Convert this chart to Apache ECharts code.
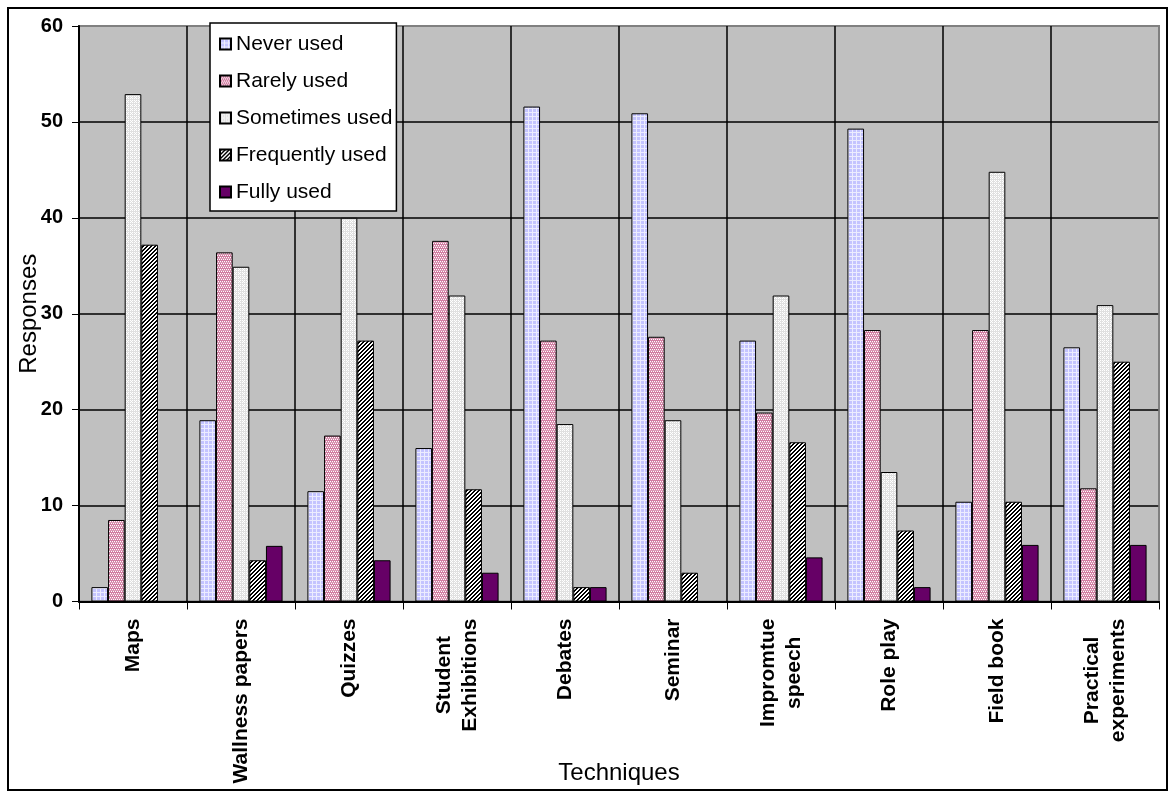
<!DOCTYPE html>
<html>
<head>
<meta charset="utf-8">
<script src="https://cdn.jsdelivr.net/npm/echarts@6/dist/echarts.min.js"></script>
<style>
  html, body { margin: 0; padding: 0; background: #fff; }
  #chart { width: 1173px; height: 792px; }
</style>
</head>
<body>
<div id="chart"></div>
<script>
// Techniques on the category axis
const categories = ['Maps', 'Wallness papers', 'Quizzes', 'Student\nExhibitions', 'Debates',
  'Seminar', 'Impromtue\nspeech', 'Role play', 'Field book', 'Practical\nexperiments'];

// Frequency of use levels (legend entries)
const seriesNames = ['Never used', 'Rarely used', 'Sometimes used', 'Frequently used', 'Fully used'];

// Responses per technique for each level
const neverUsed      = [1.5, 18.9, 11.5, 16.0, 51.6, 50.9, 27.2, 49.3, 10.4, 26.5];
const rarelyUsed     = [8.5, 36.4, 17.3, 37.6, 27.2, 27.6, 19.7, 28.3, 28.3, 11.8];
const sometimesUsed  = [52.9, 34.9, 40.0, 31.9, 18.5, 18.9, 31.9, 13.5, 44.8, 30.9];
const frequentlyUsed = [37.2, 4.3, 27.2, 11.7, 1.5, 3.0, 16.6, 7.4, 10.4, 25.0];
const fullyUsed      = [0, 5.8, 4.3, 3.0, 1.5, 0, 4.6, 1.5, 5.9, 5.9];

// Value axis range
const yMin = 0, yMax = 60, yStep = 10;

const FONT = '"Liberation Sans", Arial, sans-serif';

// Small repeating tiles used as bar fills
function tile(size, base, paint) {
  const c = document.createElement('canvas');
  c.width = size; c.height = size;
  const g = c.getContext('2d');
  g.fillStyle = base;
  g.fillRect(0, 0, size, size);
  for (let y = 0; y < size; y++) {
    for (let x = 0; x < size; x++) {
      const col = paint(x, y);
      if (col) { g.fillStyle = col; g.fillRect(x, y, 1, 1); }
    }
  }
  return { image: c, repeat: 'repeat' };
}

const fills = [
  // lavender grid
  tile(4, '#c4c4ff', (x, y) => (x === 0 || y === 0) ? '#ececff' : null),
  // pink with white dots
  tile(4, '#d27ea2', (x, y) => ((y === 1 && x % 2 === 0) || (y === 3 && x % 2 === 1)) ? '#ffffff' : (y === 2 ? '#dc9ab6' : null)),
  // light grey with white dots
  tile(4, '#e0e0e0', (x, y) => ((y % 2 === 0 && x % 2 === 0) || (y === 1 && x === 3)) ? '#ffffff' : null),
  // black / white diagonal hatch
  tile(4, '#ffffff', (x, y) => ((x + y) % 4 < 2) ? '#000000' : null),
  // solid purple
  '#660066'
];

const seriesData = [neverUsed, rarelyUsed, sometimesUsed, frequentlyUsed, fullyUsed];

// Multi-line category labels: lines centred on each other
function labelFormatter(v) {
  if (v.indexOf('\n') < 0) return v;
  return v.split('\n').map(s => '{c|' + s + '}').join('\n');
}

const ySplitColors = [];
for (let v = yMin; v <= yMax; v += yStep) ySplitColors.push(v === yMax ? '#808080' : '#000000');
const xSplitColors = categories.map(() => '#000000').concat(['#808080']);

const chart = echarts.init(document.getElementById('chart'), null, { renderer: 'canvas' });

chart.setOption({
  animation: false,
  backgroundColor: '#ffffff',
  grid: {
    left: 79, right: 14, top: 26, bottom: 190.5,
    outerBoundsMode: 'none',
    containLabel: false,
    show: true,
    backgroundColor: '#c0c0c0',
    borderColor: '#808080',
    borderWidth: 2
  },
  legend: {
    orient: 'vertical',
    left: 210, top: 23,
    padding: [10, 4, 8, 9],
    itemGap: 15,
    itemWidth: 11, itemHeight: 11,
    icon: 'rect',
    backgroundColor: '#ffffff',
    borderColor: '#000000',
    borderWidth: 1.5,
    textStyle: { fontFamily: FONT, fontSize: 21, lineHeight: 22, color: '#000000' },
    data: seriesNames
  },
  xAxis: {
    type: 'category',
    data: categories,
    name: 'Techniques',
    nameLocation: 'middle',
    nameGap: 160,
    nameMoveOverlap: false,
    nameTextStyle: { fontFamily: FONT, fontSize: 24, color: '#000000' },
    axisLine: { show: true, lineStyle: { color: '#000000', width: 2 } },
    axisTick: { show: true, length: 8, lineStyle: { color: '#000000', width: 1 } },
    axisLabel: {
      interval: 0,
      rotate: 90,
      margin: 17,
      fontFamily: FONT, fontSize: 21, fontWeight: 'bold', color: '#000000',
      lineHeight: 26,
      formatter: labelFormatter,
      rich: {
        c: { align: 'center', fontFamily: FONT, fontSize: 21, fontWeight: 'bold', color: '#000000', lineHeight: 26 }
      }
    },
    splitLine: { show: true, interval: 0, lineStyle: { color: xSplitColors, width: 1.5 } }
  },
  yAxis: {
    type: 'value',
    min: yMin, max: yMax, interval: yStep,
    name: 'Responses',
    nameLocation: 'middle',
    nameGap: 38,
    nameMoveOverlap: false,
    nameTextStyle: { fontFamily: FONT, fontSize: 24, color: '#000000' },
    axisLine: { show: true, lineStyle: { color: '#000000', width: 2 } },
    axisTick: { show: true, length: 7, lineStyle: { color: '#000000', width: 1 } },
    axisLabel: { margin: 16, fontFamily: FONT, fontSize: 20, fontWeight: 'bold', color: '#000000' },
    splitLine: { show: true, lineStyle: { color: ySplitColors, width: 1.5 } }
  },
  series: seriesNames.map((name, i) => ({
    name: name,
    type: 'bar',
    data: seriesData[i],
    barGap: '0%',
    barCategoryGap: '23%',
    itemStyle: { color: fills[i], borderColor: '#000000', borderWidth: 1 }
  })),
  graphic: [{
    type: 'rect',
    silent: true,
    z: 100,
    shape: { x: 8, y: 8, width: 1159, height: 782 },
    style: { fill: 'none', stroke: '#000000', lineWidth: 2 }
  }]
});
</script>
</body>
</html>
